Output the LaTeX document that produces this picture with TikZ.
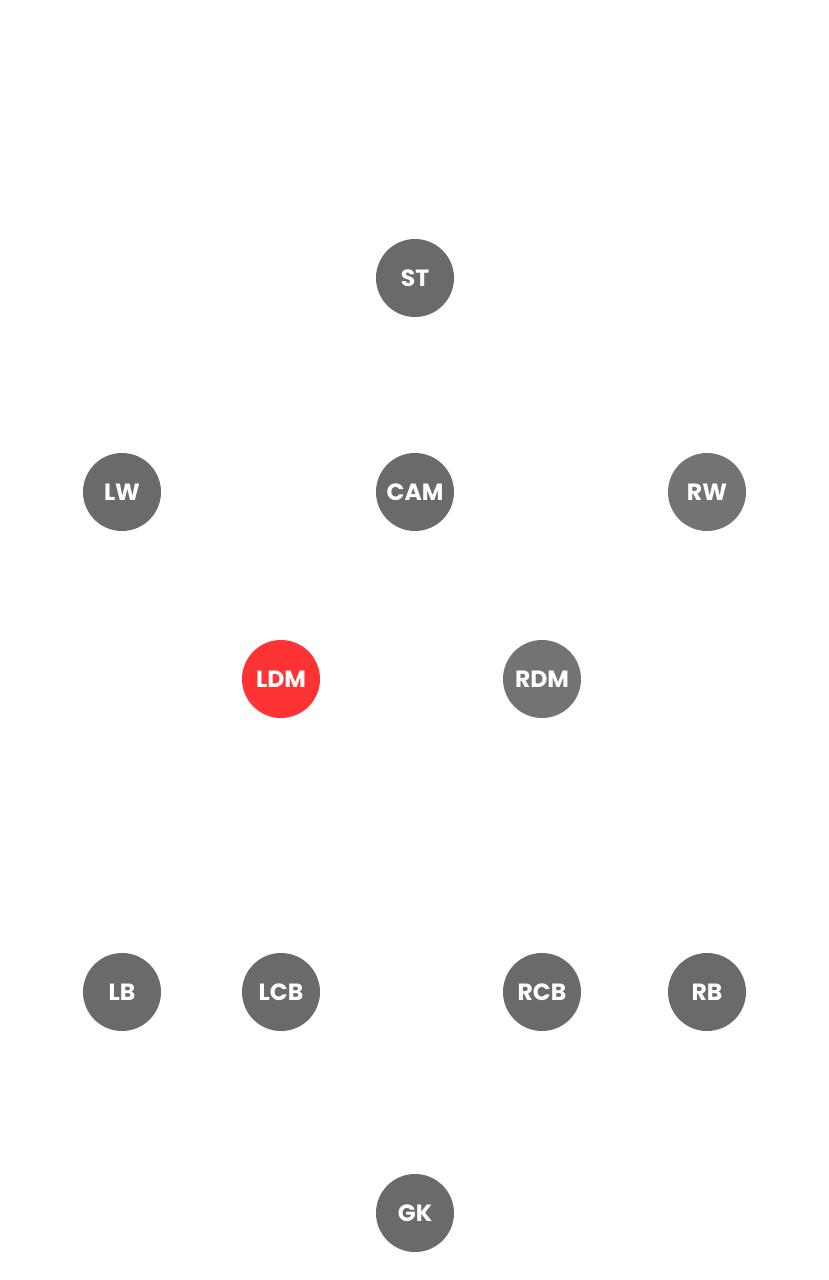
\documentclass[tikz,border=0pt]{standalone}
\usepackage{fontspec}
\setmainfont{Poppins}[BoldFont={* Bold}]
\definecolor{pgray}{HTML}{6A6A6A}
\definecolor{pgrayl}{HTML}{737373}
\definecolor{pred}{HTML}{FF3333}
\tikzset{
  player/.style={circle, fill=pgray, minimum size=78pt, inner sep=0pt, text=white, font=\fontsize{23.5}{28}\selectfont\bfseries},
  playerl/.style={player, fill=pgrayl},
  playerr/.style={player, fill=pred}
}
\begin{document}
\begin{tikzpicture}[x=1pt,y=-1pt]
\useasboundingbox[fill=white] (0,0) rectangle (829,1280);
\node[player] (st) at (415,278) {ST};
\node[player] (lw) at (122,492) {LW};
\node[player] (cam) at (415,492) {CAM};
\node[playerl] (rw) at (707,492) {RW};
\node[playerr] (ldm) at (281,679) {LDM};
\node[playerl] (rdm) at (542,679) {RDM};
\node[player] (lb) at (122,992) {LB};
\node[player] (lcb) at (281,992) {LCB};
\node[player] (rcb) at (542,992) {RCB};
\node[player] (rb) at (707,992) {RB};
\node[player] (gk) at (415,1213) {GK};
\end{tikzpicture}
\end{document}
